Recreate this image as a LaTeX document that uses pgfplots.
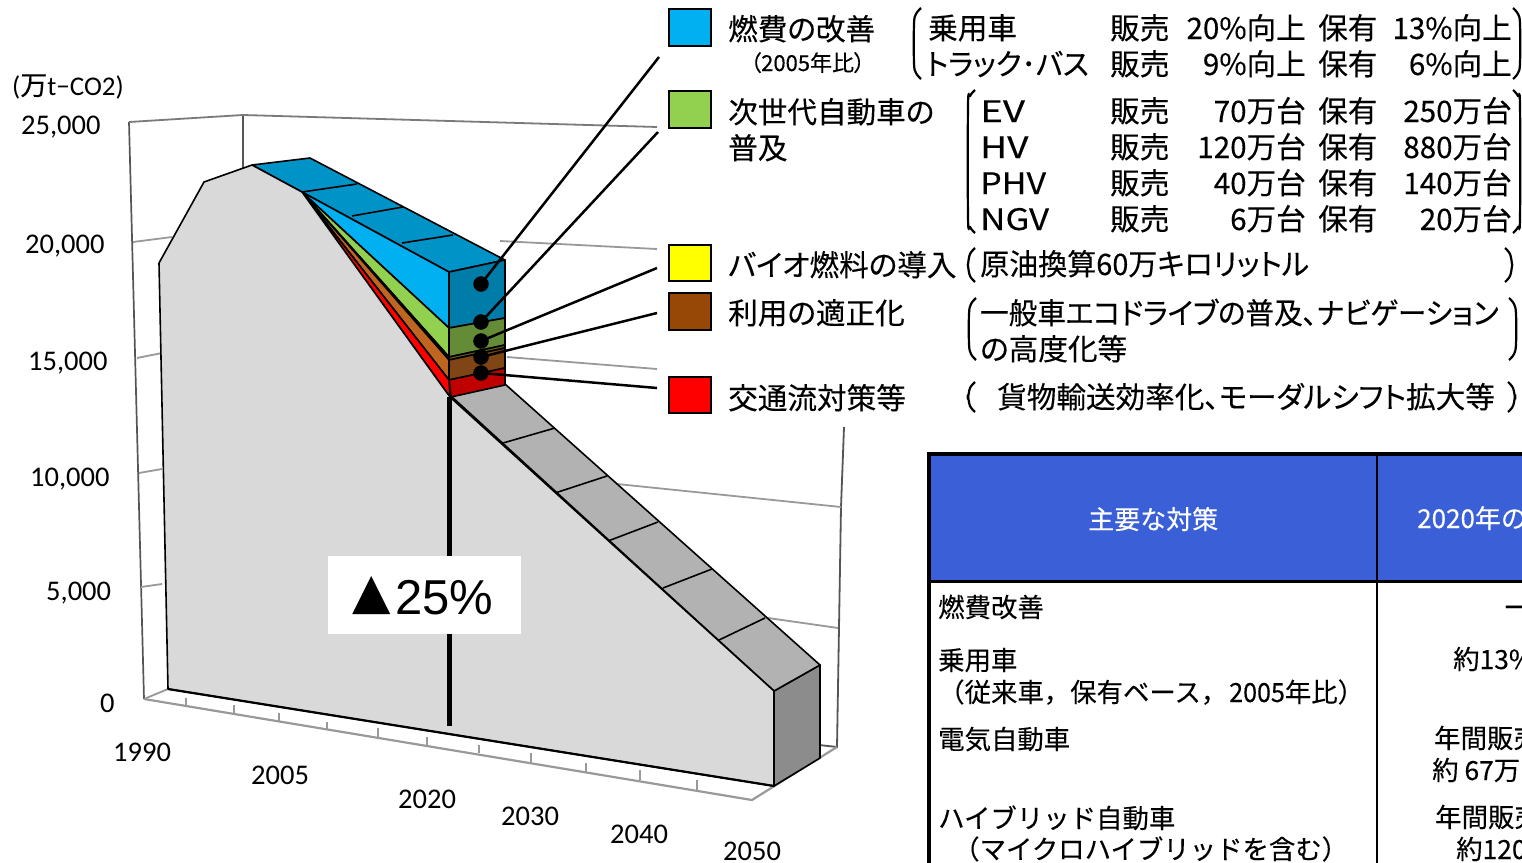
\documentclass[border=0pt]{standalone}
\usepackage{fontspec}
\usepackage{pgfplots}
\pgfplotsset{compat=1.18}
\setmainfont{Carlito}
\newfontfamily\jp[RawFeature=+palt,FakeBold=0.25]{Noto Sans CJK JP}
\newfontfamily\jpf[FakeBold=0.2]{Noto Sans CJK JP}
\newfontfamily\sym{DejaVu Sans}
\newfontfamily\ars{Liberation Sans}
\newcommand{\sz}[1]{\fontsize{#1pt}{#1pt}\selectfont}
% text helpers: x, baseline y, text
\newcommand{\TL}[3]{\node[anchor=base west,inner sep=0pt] at (axis cs:#1,#2) {#3};}
\newcommand{\TR}[3]{\node[anchor=base east,inner sep=0pt] at (axis cs:#1,#2) {#3};}
\newcommand{\LT}[3]{\TL{#1}{#2}{\jp\sz{29.6}#3}}
\newcommand{\RT}[3]{\TR{#1}{#2}{\jp\sz{29.6}#3}}
\newcommand{\BT}[3]{\TL{#1}{#2}{\jpf\sz{26.4}#3}}
\newcommand{\poly}[2]{\addplot[fill=#1,draw=black,line width=1.6pt,line join=round] coordinates {#2} --cycle;}
\newcommand{\lin}[3]{\addplot[#1] coordinates {#2 #3};}
\newcommand{\sq}[3]{\addplot[fill=#1,draw=black,line width=2.5pt] coordinates {(669,#2) (711,#2) (711,#3) (669,#3)} --cycle;}
\newcommand{\drawbr}[1]{\addplot[black,line width=2.2pt,smooth,tension=0.6] coordinates {#1};}
\newcommand{\lp}[3]{\edef\tmpc{(\the\numexpr#1+7\relax,#2) (\the\numexpr#1+2\relax,\the\numexpr#2+6\relax) (#1,\the\numexpr#2+16\relax) (#1,\the\numexpr#3-16\relax) (\the\numexpr#1+2\relax,\the\numexpr#3-6\relax) (\the\numexpr#1+7\relax,#3)}\expandafter\drawbr\expandafter{\tmpc}}
\newcommand{\rp}[3]{\edef\tmpc{(\the\numexpr#1-7\relax,#2) (\the\numexpr#1-2\relax,\the\numexpr#2+6\relax) (#1,\the\numexpr#2+16\relax) (#1,\the\numexpr#3-16\relax) (\the\numexpr#1-2\relax,\the\numexpr#3-6\relax) (\the\numexpr#1-7\relax,#3)}\expandafter\drawbr\expandafter{\tmpc}}
\definecolor{fr}{HTML}{555555}
\definecolor{gr}{HTML}{999999}
\definecolor{ctop}{HTML}{0093C8}
\definecolor{cendb}{HTML}{007CA8}
\definecolor{cendg}{HTML}{648B36}
\definecolor{cendy}{HTML}{6B5A10}
\definecolor{cendbr}{HTML}{7F4514}
\definecolor{cendr}{HTML}{C00000}
\definecolor{cb}{HTML}{00B0F0}
\definecolor{cg}{HTML}{92D050}
\definecolor{cy}{HTML}{FFFF00}
\definecolor{cbr}{HTML}{C0651F}
\definecolor{cbrl}{HTML}{974706}
\definecolor{cr}{HTML}{FF0000}
\definecolor{cbody}{HTML}{D9D9D9}
\definecolor{cgt}{HTML}{B2B2B2}
\definecolor{cgs}{HTML}{8C8C8C}
\definecolor{chead}{HTML}{3A5FD6}
\begin{document}
\begin{tikzpicture}
\useasboundingbox (0,0) rectangle (1522pt,862pt);
\clip (0,0) rectangle (1522pt,862pt);
\begin{axis}[at={(0,0)},anchor=south west,width=1522pt,height=862pt,scale only axis,
  xmin=0,xmax=1522,ymin=0,ymax=862,y dir=reverse,hide axis,clip=false]
% frame
\addplot[fr,line width=1.7pt] coordinates {(144,699) (129,122)};
\addplot[fr,line width=1.7pt] coordinates {(243,115) (243,170)};
\addplot[gr!80!black,line width=1.8pt] coordinates {(129,122) (243,115) (657,127)};
\addplot[fr,line width=1.8pt] coordinates {(844,427) (841,507) (837,747) (819,745)};
\addplot[gr,line width=1.8pt] coordinates {(144,699) (168,689)};
\addplot[gr,line width=2.2pt] coordinates {(144,699) (752,800) (837,747)};
% grid lines
\addplot[gr,line width=1.8pt] coordinates {(133,242) (172,237)};
\addplot[gr,line width=1.8pt] coordinates {(500,241) (657,249)};
\addplot[gr,line width=1.8pt] coordinates {(137,358) (162,353)};
\addplot[gr,line width=1.8pt] coordinates {(507,357) (657,369)};
\addplot[gr,line width=1.8pt] coordinates {(139,473) (162,469)};
\addplot[gr,line width=1.8pt] coordinates {(617,484) (841,507)};
\addplot[gr,line width=1.8pt] coordinates {(141,587) (162,584)};
\addplot[gr,line width=1.8pt] coordinates {(768,618) (838,628)};
% floor ticks
\addplot[gr,line width=1.3pt] coordinates {(186,698) (186,706)};
\addplot[gr,line width=1.3pt] coordinates {(234,705) (234,713)};
\addplot[gr,line width=1.3pt] coordinates {(279,713) (279,722)};
\addplot[gr,line width=1.3pt] coordinates {(327,722) (327,730)};
\addplot[gr,line width=1.3pt] coordinates {(378,728) (378,738)};
\addplot[gr,line width=1.3pt] coordinates {(427,737) (427,745)};
\addplot[gr,line width=1.3pt] coordinates {(479,745) (479,753)};
\addplot[gr,line width=1.3pt] coordinates {(531,753) (531,762)};
\addplot[gr,line width=1.3pt] coordinates {(586,763) (586,772)};
\addplot[gr,line width=1.3pt] coordinates {(640,770) (640,780)};
\addplot[gr,line width=1.3pt] coordinates {(697,780) (697,790)};
% side face of the body
\poly{cgs}{(774,691) (820,665) (820,758) (774,786)}
% top faces, lower part
\poly{cgt}{(451,396) (505,384) (820,665) (774,691)}
\lin{black,line width=1.6pt}{(503,443)}{(555,428)}
\lin{black,line width=1.6pt}{(555,493)}{(607,476)}
\lin{black,line width=1.6pt}{(608,541)}{(658,522)}
\lin{black,line width=1.6pt}{(663,588)}{(712,569)}
\lin{black,line width=1.6pt}{(719,640)}{(765,618)}
% top faces, upper part
\poly{ctop}{(252,165) (310,158) (505,260) (449,272) (302,192)}
\lin{black,line width=1.6pt}{(302,192)}{(357,184)}
\lin{black,line width=1.6pt}{(352,216)}{(403,207)}
\lin{black,line width=1.6pt}{(402,243)}{(453,235)}
% end faces
\poly{cendb}{(449,272) (505,260) (505,318) (449,328)}
\poly{cendg}{(449,328) (505,318) (505,345) (449,357)}
\poly{cendy}{(449,357) (505,345) (505,348) (449,360)}
\poly{cendbr}{(449,360) (505,348) (505,368) (449,380)}
\poly{cendr}{(449,380) (505,368) (505,385) (451,397)}
% front wedge faces
\poly{cb}{(302,192) (449,272) (449,328)}
\poly{cg}{(302,192) (449,328) (449,357)}
\poly{cy}{(302,192) (449,357) (449,360)}
\poly{cbr}{(302,192) (449,360) (449,380)}
\poly{cr}{(302,192) (449,380) (450,397)}
% body front
\poly{cbody}{(159,263) (204,182) (252,165) (302,192) (450,397) (774,691) (774,786) (168,689)}
\addplot[black,line width=2.2pt] coordinates {(168,689) (774,786)};
% reduction bar and label
\addplot[black,line width=5pt] coordinates {(449,397) (449,726)};
\addplot[fill=white,draw=none] coordinates {(328,556) (521,556) (521,634) (328,634)} --cycle;
\TL{352}{608}{\sym\sz{50}▲}
\TL{395}{614}{\ars\sz{49}25\%}
% leaders
\addplot[black,line width=2.5pt] coordinates {(481,284) (659,57)};
\addplot[black,line width=2.5pt] coordinates {(481,322) (658,132)};
\addplot[black,line width=2.5pt] coordinates {(481,341) (657,268)};
\addplot[black,line width=2.5pt] coordinates {(481,357) (657,313)};
\addplot[black,line width=2.5pt] coordinates {(481,373) (657,388)};
\addplot[only marks,mark=*,mark size=7.5pt,black] coordinates {(481,284) (481,322) (481,341) (481,357) (481,373)};
% legend squares
\sq{cb}{9}{46}
\sq{cg}{91}{128}
\sq{cy}{245}{281}
\sq{cbrl}{293}{330}
\sq{cr}{377}{413}
% brackets
\lp{914}{8}{79} \rp{1520}{8}{79}
\lp{968}{90}{233} \rp{1520}{90}{233}
\lp{968}{248}{282} \rp{1512}{248}{282}
\lp{969}{298}{360} \rp{1516}{298}{360}
\lp{968}{382}{412} \rp{1515}{382}{412}
% legend text
\LT{728}{40}{燃費の改善}
\TL{750}{71}{\jp\sz{22}（2005年比）}
\LT{728}{123}{次世代自動車の}
\LT{728}{159}{普及}
\LT{728}{276}{バイオ燃料の導入}
\LT{728}{324}{利用の適正化}
\LT{728}{409}{交通流対策等}
\LT{928}{39}{乗用車}
\LT{926}{75}{\scalebox{0.97}[1]{トラック･バス}}
\LT{1110}{39}{販売} \RT{1306}{39}{20\%向上} \LT{1318}{39}{保有} \RT{1512}{39}{13\%向上}
\LT{1110}{75}{販売} \RT{1306}{75}{9\%向上} \LT{1318}{75}{保有} \RT{1512}{75}{6\%向上}
\LT{980}{122}{\scalebox{1.3}[1]{EV}} \LT{1110}{122}{販売} \RT{1306}{122}{70万台} \LT{1318}{122}{保有} \RT{1512}{122}{250万台}
\LT{980}{158}{\scalebox{1.25}[1]{HV}} \LT{1110}{158}{販売} \RT{1306}{158}{120万台} \LT{1318}{158}{保有} \RT{1512}{158}{880万台}
\LT{980}{194}{\scalebox{1.15}[1]{PHV}} \LT{1110}{194}{販売} \RT{1306}{194}{40万台} \LT{1318}{194}{保有} \RT{1512}{194}{140万台}
\LT{980}{230}{\scalebox{1.18}[1]{NGV}} \LT{1110}{230}{販売} \RT{1306}{230}{6万台} \LT{1318}{230}{保有} \RT{1512}{230}{20万台}
\LT{980}{275}{\scalebox{0.98}[1]{原油換算60万キロリットル}}
\LT{980}{324}{\scalebox{0.965}[1]{一般車エコドライブの普及、ナビゲーション}}
\LT{980}{360}{の高度化等}
\LT{997}{408}{貨物輸送効率化、モーダルシフト拡大等}
% axis text
\TL{12}{95}{\sz{27}(\jp 万\rmfamily t−CO2)}
\TL{21}{134}{\sz{28.5}25,000}
\TL{25}{253}{\sz{28.5}20,000}
\TL{28}{370}{\sz{28.5}15,000}
\TL{30}{486}{\sz{28.5}10,000}
\TL{46}{600}{\sz{28.5}5,000}
\TL{100}{712}{\sz{28.5}0}
\TL{113}{761}{\sz{28.5}1990}
\TL{251}{784}{\sz{28.5}2005}
\TL{398}{808}{\sz{28.5}2020}
\TL{501}{825}{\sz{28.5}2030}
\TL{610}{843}{\sz{28.5}2040}
\TL{723}{860}{\sz{28.5}2050}
% table
\addplot[fill=chead,draw=none] coordinates {(929,454) (1530,454) (1530,581) (929,581)} --cycle;
\addplot[black,line width=4pt] coordinates {(1530,454) (929,454) (929,870)};
\addplot[black,line width=3pt] coordinates {(929,581) (1530,581)};
\addplot[black,line width=2.5pt] coordinates {(1377,454) (1377,870)};
\TL{1088}{529}{\color{white}\jpf\sz{26}主要な対策}
\TL{1417}{528}{\color{white}\jpf\sz{26}2020年の}
\BT{938}{617}{燃費改善}
\BT{938}{670}{乗用車}
\BT{938}{702}{（従来車，保有ベース，}
\BT{1229}{702}{\scalebox{0.95}[1]{2005}年比）}
\BT{938}{749}{電気自動車}
\BT{938}{828}{ハイブリッド自動車}
\BT{953}{859}{（マイクロハイブリッドを含む）}
\BT{1503}{617}{ー}
\BT{1453}{669}{約13\%}
\BT{1434}{748}{年間販売}
\BT{1432}{780}{約 67万}
\BT{1435}{827}{年間販売}
\BT{1456}{859}{約120}
\end{axis}
\end{tikzpicture}
\end{document}
